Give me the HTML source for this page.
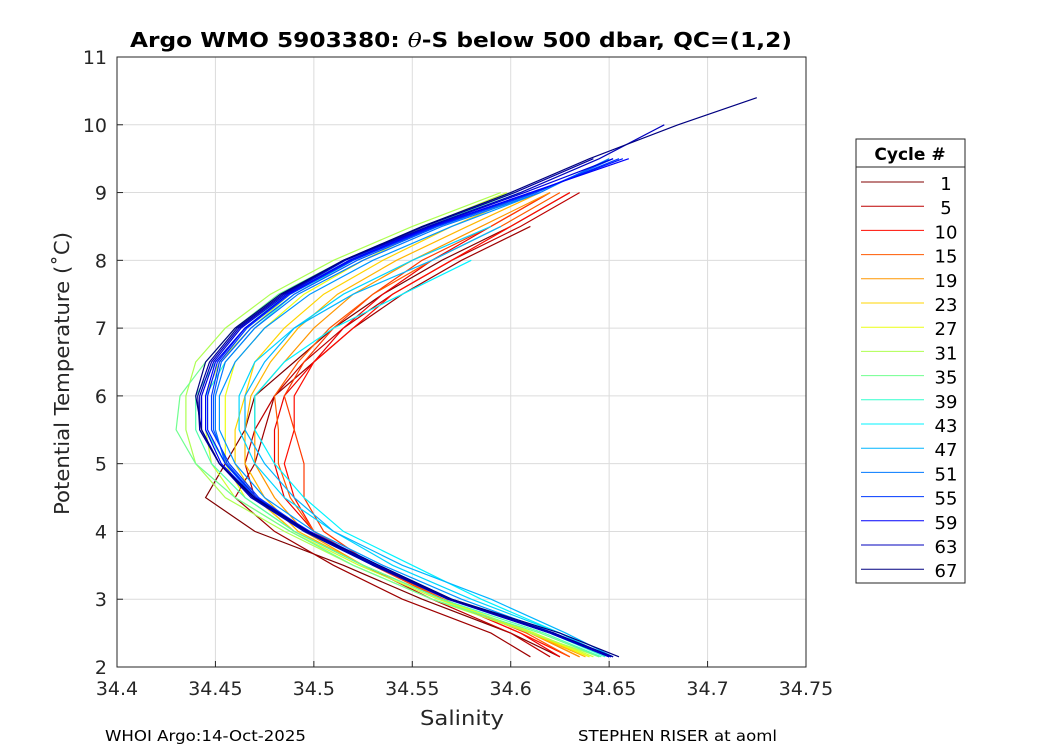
<!DOCTYPE html>
<html><head><meta charset="utf-8"><style>
body{margin:0;background:#fff;}
svg text{font-family:"DejaVu Sans","Liberation Sans",sans-serif;}
</style></head><body>
<svg id="chart" width="1050" height="750" xmlns="http://www.w3.org/2000/svg">
<rect width="1050" height="750" fill="#fff"/>
<g id="grid"></g>
<g id="lines"></g>
<rect x="117" y="57" width="689" height="610" fill="none" stroke="#262626" stroke-width="1"/>
<g id="ticks"></g>
<text x="130" y="47" textLength="662" lengthAdjust="spacingAndGlyphs" font-size="20" font-weight="bold" fill="#000">Argo WMO 5903380: <tspan font-style="italic" font-weight="normal" font-family="DejaVu Serif,serif">θ</tspan>-S below 500 dbar,  QC=(1,2)</text>
<text x="420" y="725" textLength="84" lengthAdjust="spacingAndGlyphs" font-size="20" fill="#262626">Salinity</text>
<text transform="translate(69,515) rotate(-90)" textLength="283" lengthAdjust="spacingAndGlyphs" font-size="20" fill="#262626">Potential Temperature (˚C)</text>
<text x="105" y="741" textLength="201" lengthAdjust="spacingAndGlyphs" font-size="15" fill="#000">WHOI Argo:14-Oct-2025</text>
<text x="578" y="741" textLength="199" lengthAdjust="spacingAndGlyphs" font-size="15" fill="#000">STEPHEN RISER at aoml</text>
<g id="legend"></g>
</svg>
<script>
const levels = [2.15,2.5,3,3.5,4,4.5,5,5.5,6,6.5,7,7.5,8,8.5,9,9.5,10,10.4];
const cycles = [1,3,5,8,10,13,15,19,21,23,27,29,31,35,37,39,43,45,47,49,51,53,55,57,59,61,63,65,67];
const salinity = [
 [34.625,34.6,34.555,34.515,34.47,34.445,34.455,34.465,34.47,34.49,34.51,34.535,34.565,34.6,34.63,null,null,null],
 [34.61,34.59,34.545,34.51,34.48,34.46,34.47,34.475,34.48,34.5,34.52,34.545,34.575,34.61,null,null,null,null],
 [34.62,34.6,34.56,34.525,34.49,34.47,34.465,34.47,34.48,34.495,34.515,34.54,34.57,34.605,34.635,null,null,null],
 [34.625,34.605,34.565,34.53,34.5,34.485,34.48,34.48,34.485,34.5,34.515,34.535,34.56,34.59,34.62,null,null,null],
 [34.63,34.605,34.565,34.53,34.5,34.49,34.485,34.49,34.49,34.5,34.52,34.54,34.57,34.6,34.63,null,null,null],
 [34.635,34.61,34.565,34.53,34.505,34.495,34.495,34.49,34.485,34.495,34.51,34.53,34.555,34.59,34.62,null,null,null],
 [34.63,34.608,34.566,34.53,34.5,34.488,34.482,34.482,34.48,34.492,34.508,34.53,34.56,34.595,34.625,null,null,null],
 [34.635,34.61,34.565,34.525,34.495,34.48,34.47,34.47,34.47,34.485,34.5,34.52,34.55,34.585,34.62,null,null,null],
 [34.638,34.61,34.565,34.525,34.492,34.475,34.465,34.465,34.468,34.478,34.492,34.512,34.542,34.578,34.615,null,null,null],
 [34.64,34.61,34.565,34.525,34.49,34.47,34.46,34.46,34.465,34.47,34.485,34.505,34.535,34.57,34.61,null,null,null],
 [34.64,34.612,34.565,34.525,34.49,34.465,34.455,34.455,34.455,34.46,34.475,34.495,34.525,34.56,34.6,null,null,null],
 [34.642,34.612,34.563,34.523,34.488,34.46,34.448,34.445,34.445,34.452,34.468,34.488,34.518,34.556,34.598,null,null,null],
 [34.645,34.61,34.56,34.52,34.485,34.455,34.44,34.435,34.435,34.44,34.455,34.478,34.51,34.55,34.595,null,null,null],
 [34.645,34.615,34.56,34.52,34.488,34.46,34.44,34.43,34.432,34.445,34.46,34.482,34.515,34.555,34.6,null,null,null],
 [34.646,34.617,34.565,34.525,34.49,34.465,34.448,34.44,34.44,34.45,34.465,34.486,34.518,34.558,34.602,null,null,null],
 [34.648,34.62,34.57,34.53,34.495,34.47,34.455,34.445,34.445,34.455,34.47,34.49,34.52,34.56,34.605,null,null,null],
 [34.65,34.625,34.585,34.55,34.515,34.495,34.48,34.47,34.47,34.485,34.51,34.545,34.58,null,null,null,null,null],
 [34.65,34.625,34.58,34.54,34.51,34.485,34.47,34.462,34.462,34.47,34.49,34.515,34.55,34.59,null,null,null,null],
 [34.652,34.628,34.59,34.545,34.51,34.49,34.475,34.465,34.465,34.475,34.49,34.52,34.56,34.595,null,null,null,null],
 [34.65,34.622,34.575,34.535,34.5,34.475,34.46,34.452,34.452,34.46,34.475,34.498,34.53,34.57,34.615,null,null,null],
 [34.65,34.62,34.57,34.53,34.497,34.47,34.455,34.45,34.45,34.455,34.47,34.492,34.525,34.565,34.615,34.65,null,null],
 [34.65,34.62,34.569,34.531,34.497,34.471,34.456,34.449,34.449,34.453,34.468,34.49,34.522,34.563,34.613,34.652,null,null],
 [34.65,34.62,34.568,34.532,34.497,34.472,34.457,34.448,34.448,34.452,34.466,34.488,34.52,34.562,34.612,34.655,null,null],
 [34.651,34.621,34.569,34.532,34.497,34.471,34.455,34.446,34.446,34.451,34.465,34.487,34.519,34.561,34.611,34.657,null,null],
 [34.652,34.622,34.57,34.533,34.498,34.47,34.453,34.445,34.445,34.45,34.465,34.487,34.518,34.56,34.61,34.66,null,null],
 [34.651,34.621,34.569,34.531,34.496,34.469,34.452,34.443,34.443,34.449,34.463,34.486,34.516,34.559,34.607,34.652,null,null],
 [34.65,34.62,34.568,34.53,34.495,34.468,34.452,34.442,34.442,34.448,34.462,34.485,34.515,34.558,34.605,34.645,34.678,null],
 [34.652,34.622,34.569,34.531,34.496,34.469,34.452,34.442,34.441,34.447,34.461,34.484,34.515,34.556,34.602,34.642,null,null],
 [34.655,34.625,34.57,34.533,34.497,34.47,34.452,34.443,34.44,34.445,34.46,34.483,34.515,34.555,34.6,34.64,34.685,34.725]
];
const xTicks = [34.4,34.45,34.5,34.55,34.6,34.65,34.7,34.75];
const yTicks = [2,3,4,5,6,7,8,9,10,11];
const legendCycles = [1,5,10,15,19,23,27,31,35,39,43,47,51,55,59,63,67];

const NS='http://www.w3.org/2000/svg';
const X0=117,X1=806,Y0=667,Y1=57;
function xs(s){return X0+(s-34.4)/(34.75-34.4)*(X1-X0);}
function ys(t){return Y0-(t-2)/(11-2)*(Y0-Y1);}
function jet(c){const v=1-(c-1)/66;const f=a=>Math.round(255*Math.max(0,Math.min(1,1.5-Math.abs(4*v-a))));return `rgb(${f(3)},${f(2)},${f(1)})`;}
function mk(tag,attrs,parent){const e=document.createElementNS(NS,tag);for(const k in attrs)e.setAttribute(k,attrs[k]);parent.appendChild(e);return e;}
const grid=document.getElementById('grid'),ticks=document.getElementById('ticks'),lines=document.getElementById('lines'),leg=document.getElementById('legend');
xTicks.forEach(v=>{const x=xs(v);
 const g=mk('line',{x1:x,x2:x,y1:Y1,y2:Y0,stroke:'#dcdcdc','stroke-width':1},grid);
 
 
 mk('line',{x1:x,x2:x,y1:Y0,y2:Y0-6,stroke:'#262626'},ticks);
 const t=mk('text',{x:x,y:Y0+28,'text-anchor':'middle','font-size':19,fill:'#262626'},ticks);t.textContent=v;
 
 
});
yTicks.forEach(v=>{const y=ys(v);
 const g=mk('line',{x1:X0,x2:X1,y1:y,y2:y,stroke:'#dcdcdc','stroke-width':1},grid);
 
 
 mk('line',{x1:X0,x2:X0+6,y1:y,y2:y,stroke:'#262626'},ticks);
 const t=mk('text',{x:X0-10,y:y+7,'text-anchor':'end','font-size':19,fill:'#262626'},ticks);t.textContent=v;
 
 
});
salinity.forEach((row,i)=>{const pts=[];row.forEach((s,j)=>{if(s!==null)pts.push(xs(s).toFixed(1)+','+ys(levels[j]).toFixed(1));});
 const p=mk('polyline',{points:pts.join(' '),fill:'none',stroke:jet(cycles[i]),'stroke-width':1.2},lines);
 
 
});
const lb=mk('rect',{x:856,y:139,width:109,height:444,fill:'#fff',stroke:'#262626'},leg);


mk('line',{x1:856,x2:965,y1:167,y2:167,stroke:'#262626'},leg);
const lt=mk('text',{x:910,y:160,'text-anchor':'middle','font-size':17,'font-weight':'bold',fill:'#000'},leg);lt.textContent='Cycle #';


legendCycles.forEach((c,i)=>{const y=182+i*24.2;
 const l=mk('line',{x1:861,x2:924,y1:y,y2:y,stroke:jet(c),'stroke-width':1},leg);
 
 
 const t=mk('text',{x:946,y:y+8,'text-anchor':'middle','font-size':18,fill:'#000'},leg);t.textContent=c;
 
 
});
</script>
</body></html>
